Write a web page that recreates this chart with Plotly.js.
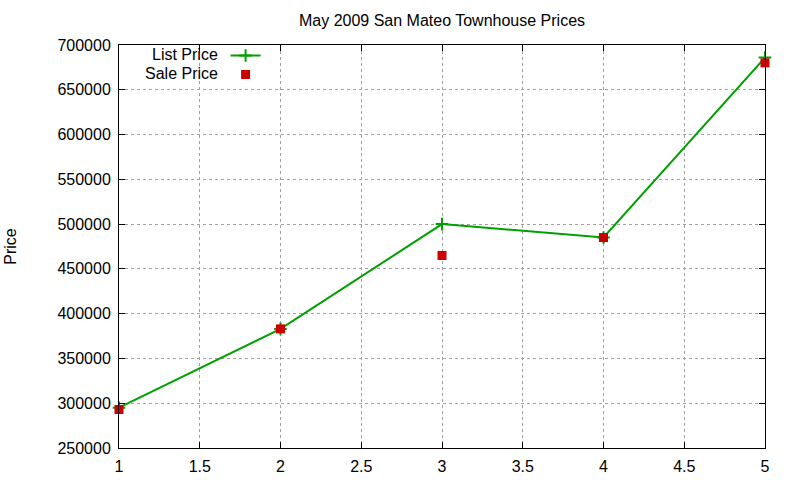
<!DOCTYPE html>
<html>
<head>
<meta charset="utf-8">
<script src="https://cdn.plot.ly/plotly-3.0.1.min.js"></script>
<style>html,body{margin:0;padding:0;background:#fff;}#chart{width:800px;height:480px;}</style>
</head>
<body>
<div id="chart"></div>
<script>
const xValues = [1, 2, 3, 4, 5];
const listPrice = [295000, 383000, 500000, 485000, 686000];
const salePrice = [293000, 383000, 465000, 485000, 680000];
const seriesNames = ["List Price", "Sale Price"];
const chartTitle = "May 2009 San Mateo Townhouse Prices";
const yTitle = "Price";

const font = "Liberation Sans, Arial, sans-serif";

const traces = [
  {
    x: xValues, y: listPrice, name: seriesNames[0], type: "scatter", mode: "lines+markers",
    line: {color: "#00a000", width: 2},
    marker: {symbol: "cross-thin", size: 9, color: "#00a000", line: {color: "#00a000", width: 2}},
    cliponaxis: false
  },
  {
    x: xValues, y: salePrice, name: seriesNames[1], type: "scatter", mode: "markers",
    marker: {symbol: "square", size: 9, color: "#cc0000"},
    cliponaxis: false
  }
];

const axisCommon = {
  showline: true, linecolor: "#000", linewidth: 1, mirror: "ticks",
  ticks: "inside", ticklen: 6, tickcolor: "#000", tickwidth: 1,
  showgrid: true, gridcolor: "#a0a0a0", griddash: "dot", gridwidth: 1,
  zeroline: false, tickfont: {family: font, size: 16, color: "#000"}
};

const layout = {
  width: 800, height: 480,
  margin: {l: 119, r: 35, t: 45, b: 32},
  paper_bgcolor: "#fff", plot_bgcolor: "#fff",
  title: {text: chartTitle, font: {family: font, size: 16, color: "#000"}, x: 0.5, xref: "paper", y: 1 - 20/480, yanchor: "middle"},
  xaxis: Object.assign({}, axisCommon, {range: [1, 5], dtick: 0.5, tick0: 1, ticklabelstandoff: 4}),
  yaxis: Object.assign({}, axisCommon, {range: [250000, 700000], dtick: 50000, tick0: 250000, tickformat: "d", ticklabelstandoff: 4,
    title: {text: yTitle, font: {family: font, size: 16, color: "#000"}, standoff: 36}}),
  showlegend: true,
  legend: {x: 0.165, y: 1.01, xanchor: "left", yanchor: "top", bgcolor: "rgba(0,0,0,0)",
    font: {family: font, size: 9, color: "rgba(0,0,0,0)"}, tracegroupgap: 0, itemwidth: 30},
  annotations: seriesNames.map((n, i) => ({
    text: n, xref: "paper", yref: "paper", x: 0.156, y: 1 - (9.5 + 19 * i) / 403, xanchor: "right", yanchor: "middle",
    showarrow: false, font: {family: font, size: 16, color: "#000"}
  }))
};

Plotly.newPlot("chart", traces, layout, {displayModeBar: false, staticPlot: true});
</script>
</body>
</html>
